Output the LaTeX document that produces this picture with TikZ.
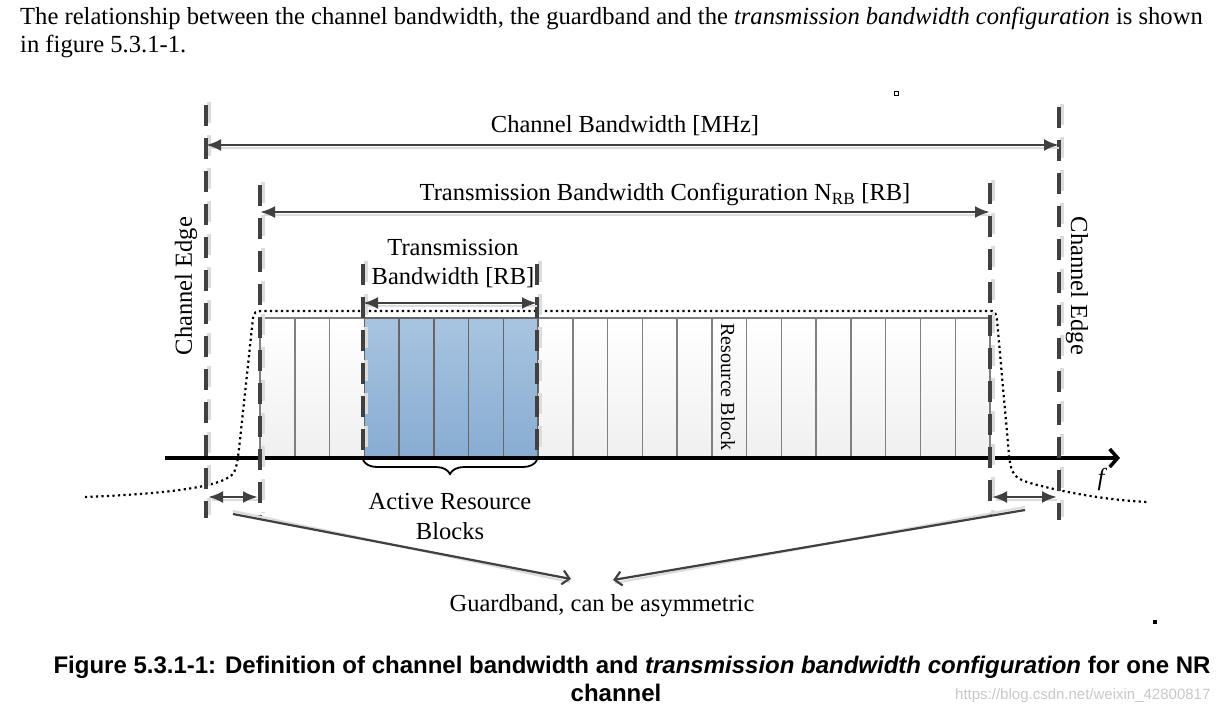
\documentclass[tikz,border=0pt]{standalone}
\usepackage{fontspec}
\setmainfont{Liberation Serif}
\newfontfamily\capfont{Liberation Sans}
\usetikzlibrary{arrows.meta,decorations.pathreplacing}
\definecolor{dkgray}{HTML}{404040}
\definecolor{shgray}{HTML}{DCDCDC}
\definecolor{cellline}{HTML}{808080}
\definecolor{bluetop}{HTML}{A8C4E0}
\definecolor{bluebot}{HTML}{88ACD2}
\definecolor{wmgray}{HTML}{C8C8C8}
\begin{document}
\begin{tikzpicture}[x=1pt,y=-1pt,
  edgeline/.style={draw=dkgray,line width=3.5pt,dash pattern=on 21pt off 12pt},
  edgeshadow/.style={draw=shgray,line width=3.5pt,dash pattern=on 21pt off 12pt},
  dimarrow/.style={draw=dkgray,line width=2.8pt,{Latex[length=15pt,width=12pt]}-{Latex[length=15pt,width=12pt]}},
  dimshadow/.style={draw=shgray,line width=2.8pt},
  pointer/.style={draw=dkgray,line width=2.2pt,-{Straight Barb[length=7pt,width=14pt,line width=2.2pt]}},
  lbl/.style={font=\fontsize{24.5}{29}\selectfont,inner sep=0pt},
  cellwhite/.style={top color=white,bottom color=black!6,draw=cellline,line width=1.5pt},
  cellblue/.style={top color=bluetop,bottom color=bluebot,draw=dkgray!80,line width=1.5pt},
]
\useasboundingbox (0,0) rectangle (1230,713);

% paragraph
\node[anchor=base west,inner sep=0pt,font=\fontsize{24.6}{29}\selectfont] (para1) at (20,24)
  {The relationship between the channel bandwidth, the guardband and the \textit{transmission bandwidth configuration} is shown};
\node[anchor=base west,inner sep=0pt,font=\fontsize{24.6}{29}\selectfont] (para2) at (20,52)
  {in figure 5.3.1-1.};

% tiny marks
\draw[line width=1pt] (894,91) rectangle (898,95);
\fill (1153,620) rectangle (1157,624);

% resource blocks
\foreach \i in {0,...,20}{
  \pgfmathsetmacro\xa{260+\i*730/21}
  \pgfmathsetmacro\xb{260+(\i+1)*730/21}
  \path[cellwhite] (\xa,318) rectangle (\xb,458);
}
\foreach \i in {3,...,7}{
  \pgfmathsetmacro\xa{260+\i*730/21}
  \pgfmathsetmacro\xb{260+(\i+1)*730/21}
  \path[cellblue] (\xa,318) rectangle (\xb,458);
}
\node[lbl,rotate=-90,font=\fontsize{20}{24}\selectfont] (rb) at (728,387) {Resource Block};

% spectrum mask (dotted)
\draw[line width=2.2pt,dash pattern=on 2.2pt off 3.3pt,line cap=butt]
  (85,497) .. controls (160,494) and (220,488) .. (233,474)
  .. controls (238,466) and (238,455) .. (240,440)
  -- (253,318) .. controls (254,312) and (256,311) .. (262,311)
  -- (992,311) .. controls (995,311) and (996,314) .. (997,320)
  -- (1009,455) .. controls (1011,474) and (1014,478) .. (1030,483)
  .. controls (1070,494) and (1110,500) .. (1147,502);

% frequency axis
\coordinate (axl) at (165,458);
\coordinate (axr) at (1120,458);
\draw[line width=3.5pt,-{Straight Barb[length=8pt,width=18pt,line width=3.5pt]}] (axl) -- (axr);
\node[lbl,font=\fontsize{24.5}{29}\selectfont\itshape] (f) at (1101,479) {f};

% dashed edge lines
\coordinate (ceLt) at (206,105); \coordinate (ceLb) at (206,518);
\coordinate (ceRt) at (1059,107); \coordinate (ceRb) at (1059,520);
\coordinate (tbLt) at (260,185); \coordinate (tbLb) at (260,516);
\coordinate (tbRt) at (990,183); \coordinate (tbRb) at (990,516);
\coordinate (abLt) at (363,264); \coordinate (abLb) at (363,460);
\coordinate (abRt) at (537,264); \coordinate (abRb) at (537,460);
\foreach \a/\b in {ceLt/ceLb,ceRt/ceRb,tbLt/tbLb,tbRt/tbRb,abLt/abLb,abRt/abRb}{
  \draw[edgeshadow] ([xshift=3pt,yshift=3pt]\a) -- ([xshift=3pt,yshift=3pt]\b);
  \draw[edgeline] (\a) -- (\b);
}

% channel bandwidth
\draw[dimshadow] (210,148) -- (1059,148);
\draw[dimarrow] (ceLt |- 0,145) -- (ceRt |- 0,145);
\node[lbl] (cbw) at (625,126) {Channel Bandwidth [MHz]};

% transmission bandwidth configuration
\draw[dimshadow] (264,215) -- (990,215);
\draw[dimarrow] (tbLt |- 0,212) -- (tbRt |- 0,212);
\node[lbl] (tbc) at (665,195) {Transmission Bandwidth Configuration N\textsubscript{RB} [RB]};

% transmission bandwidth
\draw[dimshadow] (366,306) -- (537,306);
\draw[dimarrow] (abLt |- 0,303) -- (abRt |- 0,303);
\node[lbl] (tb1) at (453,248) {Transmission};
\node[lbl] (tb2) at (453,278) {Bandwidth [RB]};

% brace
\draw[line width=1.8pt,decorate,decoration={brace,mirror,amplitude=14pt}] (abLb) -- (abRb);
\node[lbl] (arb1) at (450,501) {Active Resource};
\node[lbl] (arb2) at (450,531) {Blocks};

% channel edge labels
\node[lbl,rotate=90] (edL) at (186,286) {Channel Edge};
\node[lbl,rotate=-90] (edR) at (1077,286) {Channel Edge};

% guardbands
\coordinate (gbL1) at (208,497); \coordinate (gbL2) at (258,497);
\coordinate (gbR1) at (992,497); \coordinate (gbR2) at (1057,497);
\draw[dimshadow] (212,500) -- (258,500);
\draw[dimshadow] (996,500) -- (1057,500);
\draw[dimarrow] (gbL1) -- (gbL2);
\draw[dimarrow] (gbR1) -- (gbR2);
\node[lbl] (gb) at (602,606) {Guardband, can be asymmetric};
\coordinate (pL) at (233,514); \coordinate (pR) at (1025,510);
\draw[draw=shgray,line width=2.2pt] ([yshift=3pt]pL) -- (570,582);
\draw[draw=shgray,line width=2.2pt] ([yshift=3pt]pR) -- (615,583);
\draw[pointer] (pL) -- (571,579);
\draw[pointer] (pR) -- (613,580);

% caption
\node[anchor=base,inner sep=0pt,font=\capfont\bfseries\fontsize{24}{28}\selectfont] (cap1) at (632,673)
  {Figure 5.3.1-1: Definition of channel bandwidth and \textit{transmission bandwidth configuration} for one NR};
\node[anchor=base,inner sep=0pt,font=\capfont\bfseries\fontsize{24}{28}\selectfont] (cap2) at (616,701) {channel};
\node[anchor=base west,inner sep=0pt,text=wmgray,font=\capfont\fontsize{15}{18}\selectfont] (wm) at (955,699)
  {https://blog.csdn.net/weixin\_42800817};
\end{tikzpicture}
\end{document}
